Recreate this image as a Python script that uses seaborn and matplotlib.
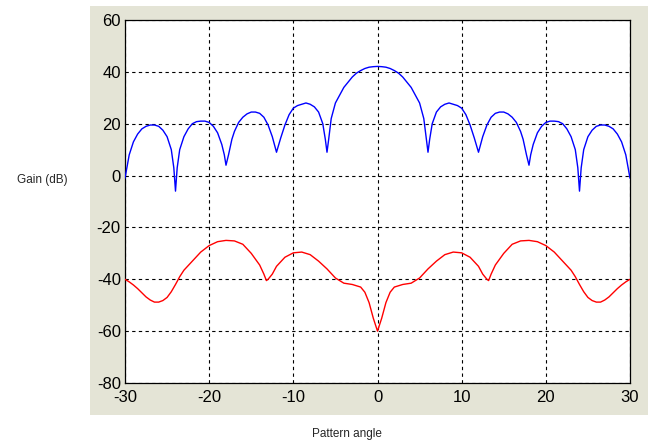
import matplotlib
matplotlib.use("Agg")
import matplotlib.pyplot as plt
from matplotlib.patches import Rectangle
import seaborn as sns
import pandas as pd

# Sum pattern (blue)
sum_angle = [-30, -29.5, -29, -28.5, -28, -27.5, -27, -26.5, -26, -25.5, -25, -24.5, -24.2, -24, -23.8, -23.5,
             -23, -22.5, -22, -21.5, -21, -20.5, -20, -19.5, -19, -18.5, -18.2, -18, -17.7, -17.3, -17,
             -16.5, -16, -15.5, -15, -14.5, -14, -13.5, -13, -12.5, -12, -11.5, -11, -10.5, -10, -9.5, -9,
             -8.5, -8, -7.5, -7, -6.5, -6.2, -6, -5.8, -5.5, -5, -4.5, -4, -3.5, -3, -2.5, -2, -1.5, -1,
             -0.5, 0, 0.5, 1, 1.5, 2, 2.5, 3, 3.5, 4, 4.5, 5, 5.5, 5.8, 6, 6.2, 6.5, 7, 7.5, 8, 8.5, 9,
             9.5, 10, 10.5, 11, 11.5, 12, 12.5, 13, 13.5, 14, 14.5, 15, 15.5, 16, 16.5, 17, 17.3, 17.7,
             18, 18.2, 18.5, 19, 19.5, 20, 20.5, 21, 21.5, 22, 22.5, 23, 23.5, 23.8, 24, 24.2, 24.5, 25,
             25.5, 26, 26.5, 27, 27.5, 28, 28.5, 29, 29.5, 30]
sum_gain = [-1, 8, 13, 16, 18, 19, 19.5, 19.5, 19, 17.5, 15, 10, 3, -6, 3, 10,
            15, 18, 20, 20.8, 21, 21, 20.5, 19, 16.5, 12, 8, 4, 8, 14, 17,
            20.5, 22.5, 23.8, 24.5, 24.5, 24, 22.5, 19.5, 15, 9, 14.5, 19.5, 23.5, 26, 27, 27.5,
            28, 27.5, 26.5, 24.5, 20, 14, 9, 14, 22, 28, 31, 34, 36, 38, 39.5, 40.5, 41.3, 41.8,
            42, 42.1, 42, 41.8, 41.3, 40.5, 39.5, 38, 36, 34, 31, 28, 22, 14, 9, 14, 20, 24.5, 26.5, 27.5, 28, 27.5,
            27, 26, 23.5, 19.5, 14.5, 9, 15, 19.5, 22.5, 24, 24.5, 24.5, 23.8, 22.5, 20.5, 17, 14, 8,
            4, 8, 12, 16.5, 19, 20.5, 21, 21, 20.8, 20, 18, 15, 10, 3, -6, 3, 10, 15,
            17.5, 19, 19.5, 19.5, 19, 18, 16, 13, 8, -1]

# Difference pattern (red)
diff_angle = [-30, -29.5, -29, -28.5, -28, -27.5, -27, -26.5, -26, -25.5, -25, -24.5, -24, -23.5, -23, -22, -21,
              -20, -19, -18, -17, -16, -15, -14, -13.5, -13.2, -13, -12.5, -12, -11, -10, -9, -8, -7, -6, -5,
              -4, -3, -2, -1.5, -1, -0.5, 0, 0.5, 1, 1.5, 2, 3, 4, 5, 6, 7, 8, 9, 10, 11, 12, 12.5, 13,
              13.2, 13.5, 14, 15, 16, 17, 18, 19, 20, 21, 22, 23, 23.5, 24, 24.5, 25, 25.5, 26, 26.5, 27,
              27.5, 28, 28.5, 29, 29.5, 30]
diff_gain = [-40, -41, -42.2, -43.6, -45.2, -46.8, -48, -48.8, -48.8, -48.2, -47, -44.8, -42, -39, -36.5, -33,
             -29.5, -27, -25.5, -25, -25.2, -26.5, -30, -34.5, -38, -40.5, -40, -38, -35, -31.5, -29.8, -29.5,
             -30.5, -33, -36, -39.5, -41.5, -42, -43, -45, -49, -55, -60, -55, -49, -45, -43, -42, -41.5,
             -39.5, -36, -33, -30.5, -29.5, -29.8, -31.5, -35, -38, -40, -40.5, -38, -34.5, -30, -26.5, -25.2,
             -25, -25.5, -27, -29.5, -33, -36.5, -39, -42, -44.8, -47, -48.2, -48.8, -48.8, -48, -46.8, -45.2,
             -43.6, -42.2, -41, -40]

x_ticks = [-30, -20, -10, 0, 10, 20, 30]
y_ticks = [-80, -60, -40, -20, 0, 20, 40, 60]

sns.set_style("white")
plt.rcParams['font.family'] = ['Liberation Sans', 'DejaVu Sans']

fig = plt.figure(figsize=(6.54, 4.43), dpi=100)
fig.patch.set_facecolor("white")
bg = Rectangle((90 / 654, 1 - 415 / 443), 558 / 654, 409 / 443,
               transform=fig.transFigure, facecolor="#E4E4D6",
               edgecolor="none", zorder=-10)
fig.add_artist(bg)

ax = fig.add_axes([125 / 654, 1 - 383 / 443, 505 / 654, 363 / 443])
ax.set_zorder(5)
ax.set_facecolor("white")

df_sum = pd.DataFrame({"angle": sum_angle, "gain": sum_gain})
df_diff = pd.DataFrame({"angle": diff_angle, "gain": diff_gain})
sns.lineplot(data=df_sum, x="angle", y="gain", ax=ax, color="#0000FF", linewidth=1.0,
             estimator=None, sort=False, zorder=3)
sns.lineplot(data=df_diff, x="angle", y="gain", ax=ax, color="#FF0000", linewidth=1.0,
             estimator=None, sort=False, zorder=3)

ax.set_xlim(-30, 30)
ax.set_ylim(-80, 60)
ax.set_xticks(x_ticks)
ax.set_yticks(y_ticks)
ax.set_xticklabels([str(t) for t in x_ticks])
ax.set_yticklabels([str(t) for t in y_ticks])
ax.tick_params(axis="x", labelsize=12, length=0, pad=5, colors="black")
ax.tick_params(axis="y", labelsize=12, length=0, pad=3, colors="black")
ax.grid(True, color="black", linestyle=(0, (3, 3)), linewidth=0.8)
for s in ax.spines.values():
    s.set_visible(True)
    s.set_color("black")
    s.set_linewidth(0.9)
ax.set_xlabel("")
ax.set_ylabel("")

fig.text(42 / 654, 1 - 180 / 443, "Gain (dB)", fontsize=8.5, ha="center", va="center")
fig.text(347 / 654, 1 - 434 / 443, "Pattern angle", fontsize=8.5, ha="center", va="center")

fig.savefig("out.png", dpi=100, facecolor="white")
